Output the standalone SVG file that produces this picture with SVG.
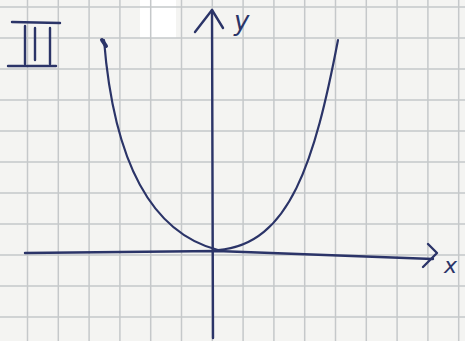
<svg xmlns="http://www.w3.org/2000/svg" width="465" height="341" viewBox="0 0 465 341">
<style>
.grid line{stroke:#c5c8ca;stroke-width:1.5}
.ink{fill:none;stroke:#2b3468;stroke-width:2.4;stroke-linecap:round;stroke-linejoin:round}
.lbl{font-family:"DejaVu Sans",sans-serif;fill:#2b3468;font-style:italic}
</style>
<rect width="465" height="341" fill="#f4f4f2"/>
<rect x="140" y="0" width="36" height="38" fill="#ffffff"/>
<g class="grid">
<line x1="27.5" y1="0" x2="27.5" y2="341"/>
<line x1="58.3" y1="0" x2="58.3" y2="341"/>
<line x1="89.1" y1="0" x2="89.1" y2="341"/>
<line x1="119.9" y1="0" x2="119.9" y2="341"/>
<line x1="150.7" y1="0" x2="150.7" y2="341"/>
<line x1="181.5" y1="0" x2="181.5" y2="341"/>
<line x1="212.3" y1="0" x2="212.3" y2="341"/>
<line x1="243.1" y1="0" x2="243.1" y2="341"/>
<line x1="273.9" y1="0" x2="273.9" y2="341"/>
<line x1="304.7" y1="0" x2="304.7" y2="341"/>
<line x1="335.5" y1="0" x2="335.5" y2="341"/>
<line x1="366.3" y1="0" x2="366.3" y2="341"/>
<line x1="397.1" y1="0" x2="397.1" y2="341"/>
<line x1="427.9" y1="0" x2="427.9" y2="341"/>
<line x1="458.7" y1="0" x2="458.7" y2="341"/>
<line x1="0" y1="7" x2="465" y2="7"/>
<line x1="0" y1="38" x2="465" y2="38"/>
<line x1="0" y1="69" x2="465" y2="69"/>
<line x1="0" y1="100" x2="465" y2="100"/>
<line x1="0" y1="131" x2="465" y2="131"/>
<line x1="0" y1="162" x2="465" y2="162"/>
<line x1="0" y1="193" x2="465" y2="193"/>
<line x1="0" y1="224" x2="465" y2="224"/>
<line x1="0" y1="255" x2="465" y2="255"/>
<line x1="0" y1="286" x2="465" y2="286"/>
<line x1="0" y1="317" x2="465" y2="317"/>
</g>
<g id="numeral" class="ink">
<path d="M12,22 L60,23"/>
<path d="M8,66 L56,66"/>
<path d="M25,26 L25,64"/>
<path d="M35,28 L35,60"/>
<path d="M50,28 L50,64"/>
</g>
<g id="axes" class="ink">
<path d="M25,253 L217,251 L433,259"/>
<path d="M428,244 L437,253 L423,267"/>
<path d="M213,338 L212,10"/>
<path d="M195,32 L212,10 L223,28"/>
</g>
<g id="curve" class="ink">
<path d="M104,40 C112,140 140,230 218,250 C290,245 315,160 338,40" stroke-width="2.2"/>
<path d="M102,40 L106,46" stroke-width="4"/>
</g>
<text class="lbl" x="234" y="30" font-size="26">y</text>
<text class="lbl" x="444" y="273" font-size="22">x</text>
</svg>
